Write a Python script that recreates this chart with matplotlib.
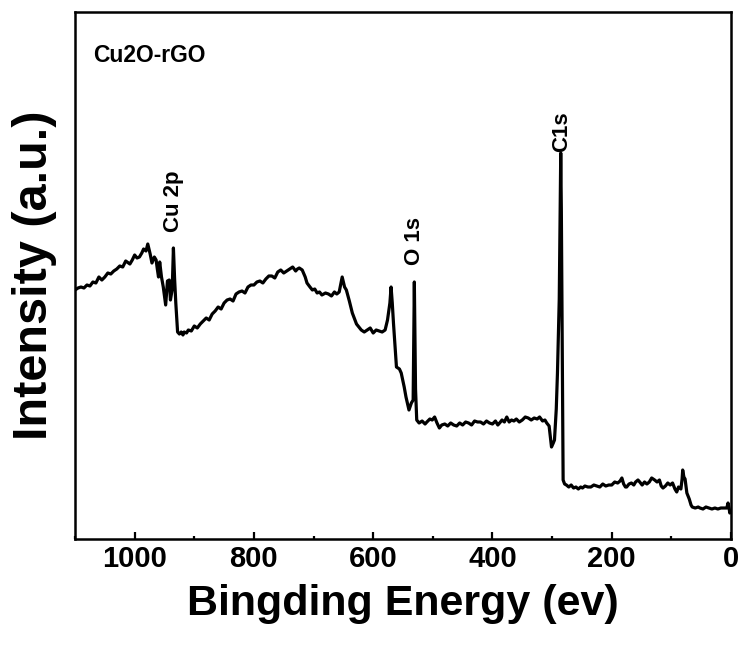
import matplotlib
matplotlib.use("Agg")
from matplotlib import pyplot as plt
from matplotlib.ticker import MultipleLocator

plt.rcParams['font.family'] = ['Liberation Sans', 'DejaVu Sans']
plt.rcParams['font.weight'] = 'bold'

# --------- XPS survey spectrum ----------------------------------
energy = [1100, 1095, 1090, 1085, 1080, 1075, 1070, 1065, 1060, 1055, 1050, 1045,
          1040, 1035, 1030, 1025, 1020, 1015, 1008, 1004, 1000, 996, 992, 988,
          985, 981, 978, 974, 971, 967, 964, 962, 960, 958, 955, 952, 948, 945,
          942, 940, 937, 935, 933, 931, 928, 925, 922, 919, 917, 913, 910, 905,
          900, 895, 890, 885, 880, 875, 870, 865, 860, 855, 850, 845, 840, 835,
          830, 825, 820, 815, 810, 805, 800, 795, 790, 785, 780, 775, 770, 765,
          760, 755, 750, 745, 740, 735, 730, 727, 724, 719, 714, 711, 706, 702,
          698, 694, 690, 686, 680, 675, 670, 665, 661, 657, 652, 648, 645, 640,
          635, 628, 620, 615, 610, 605, 600, 595, 590, 585, 580, 576, 572, 570,
          568, 566, 561, 556, 553, 548, 545, 540, 536, 533, 531, 529, 527, 523,
          518, 513, 510, 505, 501, 497, 493, 489, 485, 480, 475, 470, 465, 460,
          455, 450, 445, 440, 435, 430, 425, 420, 415, 410, 405, 400, 395, 391,
          388, 384, 380, 376, 372, 368, 364, 360, 355, 350, 345, 340, 335, 330,
          325, 321, 316, 312, 309, 305, 301, 298, 296, 293, 291, 288, 286.5,
          285.5, 284.5, 283, 281.5, 279, 276, 272, 268, 264, 260, 256, 252, 249,
          245, 240, 235, 230, 225, 220, 215, 210, 205, 200, 195, 190, 186, 183,
          180, 177, 175, 171, 167, 163, 160, 156, 153, 149, 145, 141, 137, 133,
          128, 124, 120, 117, 114, 110, 106, 102, 98, 94, 91, 88, 84, 82, 81,
          79, 77, 74, 70, 67, 65, 60, 55, 52, 47, 42, 37, 32, 27, 22, 17, 12, 7,
          5, 3, 2, 0]
intensity = [249, 251, 252, 251, 254, 253, 257, 256, 262, 259, 262, 266,
             265, 268, 270, 273, 272, 278, 275, 279, 284, 281, 282, 286,
             290, 288, 295, 285, 276, 282, 279, 270, 262, 277, 262, 252, 234, 258,
             259, 239, 250, 291, 260, 236, 207, 205, 207, 204, 207, 206, 209, 208,
             213, 211, 215, 218, 221, 219, 225, 228, 232, 230, 236, 239, 240, 238,
             245, 247, 248, 246, 252, 254, 254, 257, 258, 256, 260, 263, 263, 261,
             267, 269, 266, 268, 270, 272, 268, 270, 271, 269, 262, 256, 252, 249,
             250, 246, 247, 244, 246, 245, 243, 247, 245, 247, 262, 252, 249, 238,
             226, 215, 209, 207, 209, 211, 206, 209, 208, 207, 209, 219, 236, 252,
             236, 216, 172, 170, 166, 152, 142, 129, 136, 139, 257, 150, 119, 116,
             118, 115, 117, 120, 119, 122, 116, 111, 114, 115, 113, 116, 114, 113,
             116, 114, 117, 116, 114, 118, 117, 117, 115, 118, 116, 115, 118, 114,
             116, 119, 117, 122, 117, 119, 118, 120, 117, 119, 122, 121, 119, 121,
             120, 122, 118, 119, 116, 113, 92, 96, 99, 130, 166, 240, 330,
             386, 330, 200, 59, 55, 54, 52, 54, 51, 52, 50, 52, 51,
             53, 52, 52, 54, 53, 52, 55, 53, 54, 54, 57, 56, 58, 61,
             55, 52, 52, 55, 56, 54, 57, 59, 57, 54, 57, 55, 57, 61,
             59, 57, 59, 53, 51, 53, 56, 54, 56, 50, 47, 52, 50, 60, 69,
             62, 60, 46, 40, 34, 32, 31, 32, 31, 30, 32, 31, 30, 31, 30, 31, 31, 31,
             36, 30, 26, 28]

peak_names = ["Cu 2p", "O 1s", "C1s"]
peak_pos = [935, 531, 284.5]
peak_label_base = [307, 274, 387]

fig = plt.figure(figsize=[7.45, 6.48], dpi=100)
ax = fig.add_axes([0.1007, 0.1682, 0.8805, 0.8133])

ax.plot(energy, intensity, 'k-', linewidth=2.3)

for name, pos, base in zip(peak_names, peak_pos, peak_label_base):
    ax.text(pos, base, name, rotation=90, ha='center', va='bottom',
            fontsize=16, fontweight='bold')

ax.text(0.027, 0.918, "Cu2O-rGO", transform=ax.transAxes, ha='left', va='center',
        fontsize=16.5, fontweight='bold')

ax.set_xlim(1100, 0)
ax.set_ylim(0, 527)
ax.xaxis.set_major_locator(MultipleLocator(200))
ax.xaxis.set_minor_locator(MultipleLocator(100))
ax.set_yticks([])
ax.tick_params(axis='x', which='major', direction='in', length=5, width=1.6,
               labelsize=21, pad=4)
ax.tick_params(axis='x', which='minor', direction='in', length=2.5, width=1.6)
for s in ax.spines.values():
    s.set_linewidth(1.8)

ax.set_xlabel("Bingding Energy (ev)", fontsize=31, fontweight='bold', labelpad=8)
ax.set_ylabel("Intensity (a.u.)", fontsize=35, fontweight='bold', labelpad=13)

plt.savefig("out.png", dpi=100)
